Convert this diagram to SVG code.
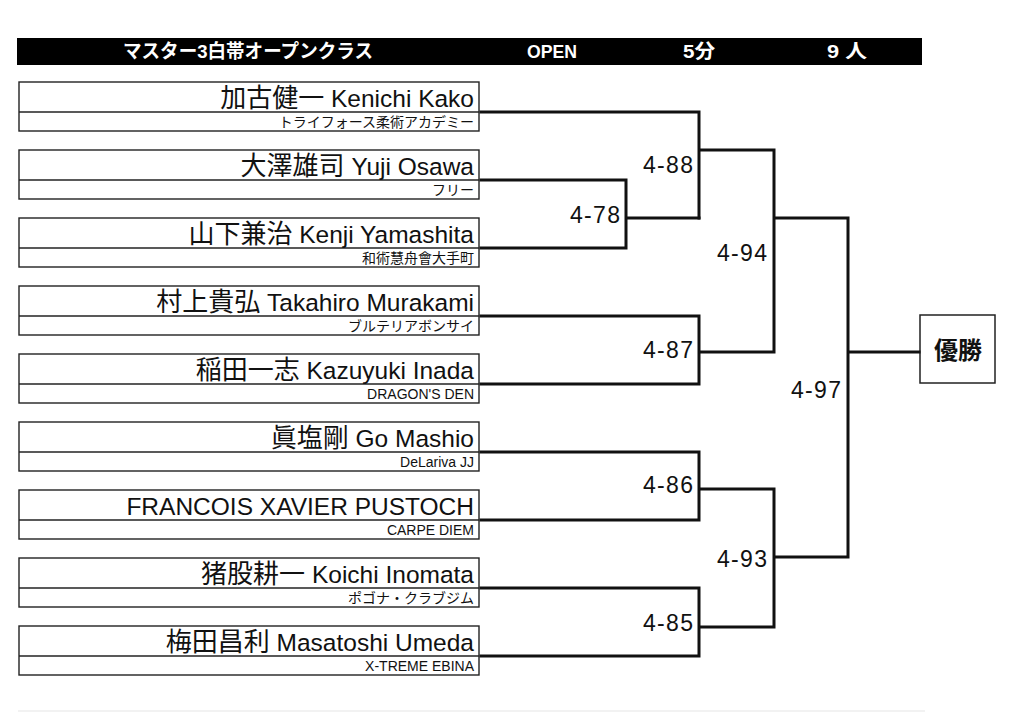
<svg xmlns="http://www.w3.org/2000/svg" width="1024" height="712" viewBox="0 0 1024 712">
<style>
.bg{fill:#fff}
.box{fill:#fff;stroke:#222;stroke-width:1.4}
.div{stroke:#222;stroke-width:1.4}
.nm{font-family:"Liberation Sans","Noto Sans CJK JP",sans-serif;font-size:24.5px;fill:#111;text-anchor:end}
.cj{font-family:"Noto Sans CJK JP","Liberation Sans",sans-serif;font-size:26px}
.cl{font-family:"Liberation Sans","Noto Sans CJK JP",sans-serif;font-size:14px;fill:#111;text-anchor:end}
.clj{font-family:"Noto Sans CJK JP","Liberation Sans",sans-serif;font-size:14px;fill:#111;text-anchor:end}
.hd{font-family:"Liberation Sans","Noto Sans CJK JP",sans-serif;font-weight:bold;font-size:19px;fill:#fff;text-anchor:middle}
.sc{font-family:"Liberation Sans",sans-serif;font-size:23px;fill:#111;text-anchor:end}
.ln{fill:none;stroke:#111;stroke-width:3;stroke-linejoin:miter;stroke-linecap:square}
.win{fill:#fff;stroke:#222;stroke-width:1.5}
.wt{font-family:"Noto Sans CJK JP",sans-serif;font-weight:bold;font-size:24px;fill:#111;text-anchor:middle}
</style>
<rect class="bg" x="0" y="0" width="1024" height="712"/>
<g id="header">
<rect x="17" y="38" width="905" height="27" fill="#000"/>
<text class="hd" x="248" y="58" textLength="250" lengthAdjust="spacingAndGlyphs" font-family="Noto Sans CJK JP, sans-serif">マスター3白帯オープンクラス</text>
<text class="hd" x="552" y="58" textLength="50" lengthAdjust="spacingAndGlyphs">OPEN</text>
<text class="hd" x="699" y="58" textLength="32" lengthAdjust="spacingAndGlyphs">5分</text>
<text class="hd" x="847" y="58" textLength="40" lengthAdjust="spacingAndGlyphs">9 人</text>
</g>
<g id="p1"><rect class="box" x="19" y="82" width="460" height="49"/><line class="div" x1="19" y1="112" x2="479" y2="112"/><text class="nm" x="474" y="107"><tspan class="cj">加古健一</tspan> Kenichi Kako</text><text class="clj" x="474" y="127">トライフォース柔術アカデミー</text></g>
<g id="p2"><rect class="box" x="19" y="150" width="460" height="49"/><line class="div" x1="19" y1="180" x2="479" y2="180"/><text class="nm" x="474" y="175"><tspan class="cj">大澤雄司</tspan> Yuji Osawa</text><text class="clj" x="474" y="195">フリー</text></g>
<g id="p3"><rect class="box" x="19" y="218" width="460" height="49"/><line class="div" x1="19" y1="248" x2="479" y2="248"/><text class="nm" x="474" y="243"><tspan class="cj">山下兼治</tspan> Kenji Yamashita</text><text class="clj" x="474" y="263" font-size="15">和術慧舟會大手町</text></g>
<g id="p4"><rect class="box" x="19" y="286" width="460" height="49"/><line class="div" x1="19" y1="316" x2="479" y2="316"/><text class="nm" x="474" y="311"><tspan class="cj">村上貴弘</tspan> Takahiro Murakami</text><text class="clj" x="474" y="331">ブルテリアボンサイ</text></g>
<g id="p5"><rect class="box" x="19" y="354" width="460" height="49"/><line class="div" x1="19" y1="384" x2="479" y2="384"/><text class="nm" x="474" y="379"><tspan class="cj">稲田一志</tspan> Kazuyuki Inada</text><text class="cl" x="474" y="399">DRAGON'S DEN</text></g>
<g id="p6"><rect class="box" x="19" y="422" width="460" height="49"/><line class="div" x1="19" y1="452" x2="479" y2="452"/><text class="nm" x="474" y="447"><tspan class="cj">眞塩剛</tspan> Go Mashio</text><text class="cl" x="474" y="467">DeLariva JJ</text></g>
<g id="p7"><rect class="box" x="19" y="490" width="460" height="49"/><line class="div" x1="19" y1="520" x2="479" y2="520"/><text class="nm" x="474" y="515">FRANCOIS XAVIER PUSTOCH</text><text class="cl" x="474" y="535">CARPE DIEM</text></g>
<g id="p8"><rect class="box" x="19" y="558" width="460" height="49"/><line class="div" x1="19" y1="588" x2="479" y2="588"/><text class="nm" x="474" y="583"><tspan class="cj">猪股耕一</tspan> Koichi Inomata</text><text class="clj" x="474" y="603">ポゴナ・クラブジム</text></g>
<g id="p9"><rect class="box" x="19" y="626" width="460" height="49"/><line class="div" x1="19" y1="656" x2="479" y2="656"/><text class="nm" x="474" y="651"><tspan class="cj">梅田昌利</tspan> Masatoshi Umeda</text><text class="cl" x="474" y="671">X-TREME EBINA</text></g>
<g id="winner"><rect class="win" x="920" y="315" width="75" height="68"/><text class="wt" x="958" y="359">優勝</text></g>
<g id="connectors">
<polyline class="ln" points="481,180 626,180 626,248 481,248"/>
<line class="ln" x1="627" y1="218" x2="699" y2="218"/>
<polyline class="ln" points="481,112 699,112 699,218"/>
<polyline class="ln" points="481,316 699,316 699,384 481,384"/>
<polyline class="ln" points="481,452 699,452 699,520 481,520"/>
<polyline class="ln" points="481,588 699,588 699,656 481,656"/>
<polyline class="ln" points="700,150 774,150 774,352 700,352"/>
<polyline class="ln" points="700,489 774,489 774,627 700,627"/>
<polyline class="ln" points="775,218 848,218 848,557 775,557"/>
<line class="ln" x1="849" y1="352" x2="919" y2="352"/>
</g>
<g id="scores">
<text class="sc" x="620" y="223" textLength="50" lengthAdjust="spacing">4-78</text>
<text class="sc" x="693" y="173" textLength="50" lengthAdjust="spacing">4-88</text>
<text class="sc" x="693" y="358" textLength="50" lengthAdjust="spacing">4-87</text>
<text class="sc" x="693" y="493" textLength="50" lengthAdjust="spacing">4-86</text>
<text class="sc" x="693" y="631" textLength="50" lengthAdjust="spacing">4-85</text>
<text class="sc" x="767" y="261" textLength="50" lengthAdjust="spacing">4-94</text>
<text class="sc" x="767" y="567" textLength="50" lengthAdjust="spacing">4-93</text>
<text class="sc" x="841" y="398" textLength="50" lengthAdjust="spacing">4-97</text>
</g>
<line x1="18" y1="711" x2="925" y2="711" stroke="#eee" stroke-width="1.5"/>
</svg>
